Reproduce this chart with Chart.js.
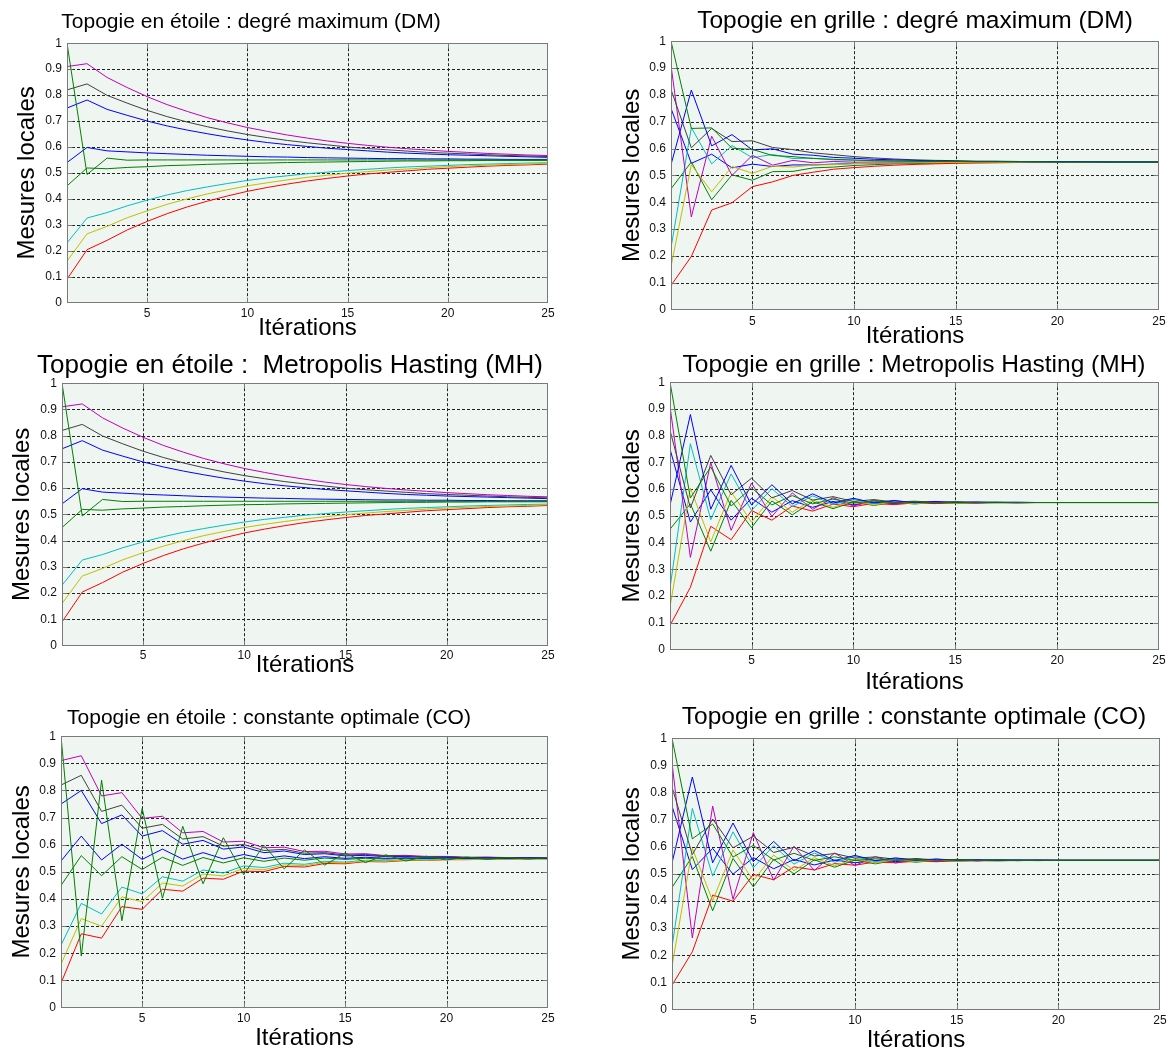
<!DOCTYPE html>
<html>
<head>
<meta charset="utf-8">
<script src="https://cdn.jsdelivr.net/npm/chart.js@4.4.0/dist/chart.umd.min.js"></script>
<style>
html,body{margin:0;padding:0;background:#fff;width:1169px;height:1052px;overflow:hidden;position:relative;font-family:"Liberation Sans",Arial,sans-serif;}
canvas{position:absolute;}
.ttl{position:absolute;color:#000;white-space:pre;transform:translateX(-50%);}
</style>
</head>
<body>
<script>
// ---------- DATA ----------
const iterations = [1,2,3,4,5,6,7,8,9,10,11,12,13,14,15,16,17,18,19,20,21,22,23,24,25];
const xTickValues = [5,10,15,20,25];
const yTickValues = [0,0.1,0.2,0.3,0.4,0.5,0.6,0.7,0.8,0.9,1];
const yTickLabels = ['0','0.1','0.2','0.3','0.4','0.5','0.6','0.7','0.8','0.9','1'];
const nodeNames = ['Nœud 1','Nœud 2','Nœud 3','Nœud 4','Nœud 5','Nœud 6','Nœud 7','Nœud 8','Nœud 9'];

// Topologie en étoile : degré maximum (DM)
const etoileDM_n1 = [0.75,0.781,0.745,0.722,0.700,0.681,0.665,0.651,0.638,0.627,0.617,0.609,0.602,0.595,0.590,0.585,0.580,0.576,0.573,0.570,0.568,0.566,0.564,0.562,0.560];
const etoileDM_n2 = [0.45,0.519,0.516,0.521,0.524,0.528,0.530,0.533,0.535,0.537,0.538,0.540,0.541,0.542,0.543,0.544,0.545,0.546,0.546,0.547,0.547,0.548,0.548,0.548,0.548];
const etoileDM_n3 = [0.09,0.204,0.240,0.280,0.313,0.343,0.369,0.391,0.411,0.429,0.444,0.457,0.469,0.479,0.488,0.496,0.502,0.508,0.514,0.518,0.522,0.526,0.529,0.531,0.534];
const etoileDM_n4 = [0.23,0.326,0.347,0.373,0.395,0.415,0.432,0.446,0.459,0.471,0.481,0.489,0.497,0.503,0.509,0.514,0.519,0.523,0.526,0.529,0.532,0.534,0.536,0.538,0.539];
const etoileDM_n5 = [0.91,0.921,0.868,0.829,0.794,0.763,0.737,0.713,0.693,0.675,0.660,0.646,0.634,0.623,0.614,0.606,0.599,0.593,0.588,0.583,0.579,0.575,0.572,0.569,0.567];
const etoileDM_n6 = [0.16,0.265,0.294,0.327,0.354,0.379,0.400,0.419,0.435,0.450,0.462,0.473,0.483,0.491,0.499,0.505,0.511,0.515,0.520,0.524,0.527,0.530,0.532,0.534,0.537];
const etoileDM_n7 = [0.82,0.843,0.799,0.769,0.741,0.717,0.696,0.678,0.662,0.648,0.636,0.625,0.616,0.608,0.600,0.594,0.589,0.584,0.579,0.576,0.573,0.570,0.567,0.565,0.563];
const etoileDM_n8 = [0.54,0.598,0.585,0.581,0.577,0.574,0.571,0.568,0.566,0.564,0.562,0.561,0.559,0.558,0.557,0.556,0.555,0.555,0.554,0.554,0.553,0.553,0.552,0.552,0.552];
const etoileDM_n9 = [1.00,0.494,0.557,0.549,0.550,0.550,0.550,0.550,0.550,0.550,0.550,0.550,0.550,0.550,0.550,0.550,0.550,0.550,0.550,0.550,0.550,0.550,0.550,0.550,0.550];

// Topologie en étoile : Metropolis Hasting (MH)
const etoileMH_n1 = [0.75,0.781,0.745,0.722,0.700,0.681,0.665,0.651,0.638,0.627,0.617,0.609,0.602,0.595,0.590,0.585,0.580,0.576,0.573,0.570,0.568,0.566,0.564,0.562,0.560];
const etoileMH_n2 = [0.45,0.519,0.516,0.521,0.524,0.528,0.530,0.533,0.535,0.537,0.538,0.540,0.541,0.542,0.543,0.544,0.545,0.546,0.546,0.547,0.547,0.548,0.548,0.548,0.548];
const etoileMH_n3 = [0.09,0.204,0.240,0.280,0.313,0.343,0.369,0.391,0.411,0.429,0.444,0.457,0.469,0.479,0.488,0.496,0.502,0.508,0.514,0.518,0.522,0.526,0.529,0.531,0.534];
const etoileMH_n4 = [0.23,0.326,0.347,0.373,0.395,0.415,0.432,0.446,0.459,0.471,0.481,0.489,0.497,0.503,0.509,0.514,0.519,0.523,0.526,0.529,0.532,0.534,0.536,0.538,0.539];
const etoileMH_n5 = [0.91,0.921,0.868,0.829,0.794,0.763,0.737,0.713,0.693,0.675,0.660,0.646,0.634,0.623,0.614,0.606,0.599,0.593,0.588,0.583,0.579,0.575,0.572,0.569,0.567];
const etoileMH_n6 = [0.16,0.265,0.294,0.327,0.354,0.379,0.400,0.419,0.435,0.450,0.462,0.473,0.483,0.491,0.499,0.505,0.511,0.515,0.520,0.524,0.527,0.530,0.532,0.534,0.537];
const etoileMH_n7 = [0.82,0.843,0.799,0.769,0.741,0.717,0.696,0.678,0.662,0.648,0.636,0.625,0.616,0.608,0.600,0.594,0.589,0.584,0.579,0.576,0.573,0.570,0.567,0.565,0.563];
const etoileMH_n8 = [0.54,0.598,0.585,0.581,0.577,0.574,0.571,0.568,0.566,0.564,0.562,0.561,0.559,0.558,0.557,0.556,0.555,0.555,0.554,0.554,0.553,0.553,0.552,0.552,0.552];
const etoileMH_n9 = [1.00,0.494,0.557,0.549,0.550,0.550,0.550,0.550,0.550,0.550,0.550,0.550,0.550,0.550,0.550,0.550,0.550,0.550,0.550,0.550,0.550,0.550,0.550,0.550,0.550];

// Topologie en étoile : constante optimale (CO)
const etoileCO_n1 = [0.75,0.800,0.678,0.710,0.632,0.652,0.602,0.616,0.584,0.592,0.571,0.577,0.564,0.567,0.559,0.561,0.556,0.557,0.554,0.555,0.552,0.553,0.551,0.552,0.551];
const etoileCO_n2 = [0.45,0.560,0.486,0.556,0.509,0.554,0.524,0.553,0.533,0.552,0.539,0.551,0.543,0.551,0.546,0.550,0.547,0.550,0.548,0.550,0.549,0.550,0.549,0.550,0.550];
const etoileCO_n3 = [0.09,0.272,0.256,0.372,0.362,0.436,0.429,0.477,0.473,0.503,0.501,0.520,0.518,0.531,0.530,0.538,0.537,0.542,0.542,0.545,0.545,0.547,0.547,0.548,0.548];
const etoileCO_n4 = [0.23,0.384,0.345,0.444,0.419,0.482,0.466,0.507,0.496,0.522,0.516,0.532,0.528,0.539,0.536,0.543,0.541,0.545,0.544,0.547,0.546,0.548,0.548,0.549,0.548];
const etoileCO_n5 = [0.91,0.928,0.780,0.792,0.697,0.705,0.644,0.649,0.610,0.613,0.589,0.591,0.575,0.576,0.566,0.567,0.560,0.561,0.557,0.557,0.554,0.554,0.553,0.553,0.552];
const etoileCO_n6 = [0.16,0.328,0.300,0.408,0.390,0.459,0.448,0.492,0.485,0.513,0.508,0.526,0.523,0.535,0.533,0.540,0.539,0.544,0.543,0.546,0.546,0.548,0.547,0.549,0.548];
const etoileCO_n7 = [0.82,0.856,0.723,0.746,0.661,0.675,0.621,0.630,0.595,0.601,0.579,0.583,0.569,0.571,0.562,0.564,0.558,0.559,0.555,0.556,0.553,0.554,0.552,0.553,0.551];
const etoileCO_n8 = [0.54,0.632,0.544,0.602,0.546,0.584,0.547,0.571,0.548,0.564,0.549,0.559,0.549,0.556,0.550,0.554,0.550,0.552,0.550,0.552,0.550,0.551,0.550,0.551,0.550];
const etoileCO_n9 = [1.00,0.190,0.838,0.320,0.734,0.403,0.668,0.456,0.626,0.490,0.598,0.511,0.581,0.525,0.570,0.534,0.563,0.540,0.558,0.544,0.555,0.546,0.553,0.547,0.552];

// Topologie en grille : degré maximum (DM)
const grilleDM_n1 = [0.75,0.545,0.579,0.528,0.542,0.533,0.539,0.539,0.542,0.544,0.545,0.546,0.547,0.548,0.548,0.549,0.549,0.549,0.550,0.550,0.550,0.550,0.550,0.550,0.550];
const grilleDM_n2 = [0.45,0.550,0.409,0.502,0.482,0.514,0.515,0.528,0.531,0.537,0.540,0.543,0.544,0.546,0.547,0.548,0.548,0.549,0.549,0.549,0.550,0.550,0.550,0.550,0.550];
const grilleDM_n3 = [0.09,0.198,0.371,0.398,0.458,0.476,0.500,0.512,0.523,0.529,0.534,0.538,0.541,0.543,0.545,0.546,0.547,0.548,0.548,0.549,0.549,0.549,0.550,0.550,0.550];
const grilleDM_n4 = [0.23,0.678,0.543,0.611,0.566,0.578,0.563,0.564,0.558,0.557,0.555,0.554,0.553,0.552,0.552,0.551,0.551,0.551,0.550,0.550,0.550,0.550,0.550,0.550,0.550];
const grilleDM_n5 = [0.91,0.345,0.646,0.500,0.575,0.538,0.556,0.547,0.552,0.549,0.550,0.550,0.550,0.550,0.550,0.550,0.550,0.550,0.550,0.550,0.550,0.550,0.550,0.550,0.550];
const grilleDM_n6 = [0.16,0.540,0.439,0.533,0.508,0.534,0.531,0.539,0.540,0.544,0.545,0.546,0.547,0.548,0.548,0.549,0.549,0.549,0.550,0.550,0.550,0.550,0.550,0.550,0.550];
const grilleDM_n7 = [0.82,0.603,0.675,0.626,0.629,0.604,0.596,0.584,0.577,0.570,0.565,0.561,0.558,0.556,0.555,0.553,0.553,0.552,0.551,0.551,0.551,0.551,0.550,0.550,0.550];
const grilleDM_n8 = [0.54,0.818,0.610,0.652,0.595,0.599,0.579,0.575,0.567,0.564,0.560,0.558,0.556,0.554,0.553,0.552,0.552,0.551,0.551,0.551,0.551,0.550,0.550,0.550,0.550];
const grilleDM_n9 = [1.00,0.675,0.677,0.601,0.597,0.574,0.570,0.563,0.560,0.557,0.555,0.554,0.553,0.552,0.552,0.551,0.551,0.551,0.551,0.550,0.550,0.550,0.550,0.550,0.550];

// Topologie en grille : Metropolis Hasting (MH)
const grilleMH_n1 = [0.75,0.477,0.597,0.484,0.566,0.514,0.557,0.532,0.554,0.541,0.552,0.546,0.551,0.548,0.550,0.549,0.550,0.5495,0.550,0.550,0.550,0.550,0.550,0.550,0.550];
const grilleMH_n2 = [0.45,0.545,0.368,0.558,0.456,0.556,0.504,0.553,0.527,0.552,0.539,0.551,0.5446,0.5505,0.547,0.550,0.549,0.550,0.550,0.550,0.550,0.550,0.550,0.550,0.550];
const grilleMH_n3 = [0.09,0.233,0.461,0.411,0.520,0.484,0.537,0.518,0.544,0.5345,0.547,0.542,0.5486,0.546,0.549,0.548,0.550,0.549,0.550,0.550,0.550,0.550,0.550,0.550,0.550];
const grilleMH_n4 = [0.23,0.770,0.486,0.657,0.520,0.602,0.535,0.575,0.543,0.5625,0.546,0.556,0.548,0.553,0.549,0.5515,0.550,0.551,0.550,0.550,0.550,0.550,0.550,0.550,0.550];
const grilleMH_n5 = [0.91,0.345,0.700,0.446,0.623,0.498,0.586,0.5245,0.568,0.537,0.559,0.544,0.554,0.547,0.552,0.5485,0.551,0.549,0.550,0.550,0.550,0.550,0.550,0.550,0.550];
const grilleMH_n6 = [0.16,0.604,0.403,0.590,0.4765,0.571,0.514,0.560,0.532,0.555,0.541,0.553,0.546,0.551,0.548,0.5506,0.549,0.550,0.550,0.550,0.550,0.550,0.550,0.550,0.550];
const grilleMH_n7 = [0.82,0.530,0.726,0.579,0.641,0.5675,0.595,0.559,0.572,0.554,0.561,0.552,0.555,0.551,0.553,0.5504,0.551,0.550,0.550,0.550,0.550,0.550,0.550,0.550,0.550];
const grilleMH_n8 = [0.54,0.879,0.525,0.689,0.541,0.6165,0.545,0.5825,0.548,0.566,0.549,0.558,0.549,0.554,0.550,0.552,0.550,0.551,0.550,0.550,0.550,0.550,0.550,0.550,0.550];
const grilleMH_n9 = [1.00,0.567,0.683,0.537,0.605,0.541,0.576,0.545,0.563,0.5475,0.556,0.549,0.553,0.549,0.5515,0.550,0.551,0.550,0.550,0.550,0.550,0.550,0.550,0.550,0.550];

// Topologie en grille : constante optimale (CO)
const grilleCO_n1 = [0.75,0.516,0.594,0.499,0.560,0.519,0.553,0.533,0.551,0.541,0.550,0.5455,0.550,0.548,0.550,0.549,0.550,0.549,0.550,0.550,0.550,0.550,0.550,0.550,0.550];
const grilleCO_n2 = [0.45,0.564,0.364,0.557,0.4525,0.5535,0.500,0.552,0.5246,0.551,0.537,0.5505,0.543,0.550,0.547,0.550,0.548,0.550,0.549,0.550,0.550,0.550,0.550,0.550,0.550];
const grilleCO_n3 = [0.09,0.213,0.422,0.3995,0.498,0.4785,0.526,0.5145,0.538,0.532,0.544,0.541,0.547,0.545,0.548,0.548,0.549,0.549,0.550,0.550,0.550,0.550,0.550,0.550,0.550];
const grilleCO_n4 = [0.23,0.741,0.492,0.655,0.5226,0.604,0.536,0.577,0.543,0.564,0.546,0.557,0.548,0.554,0.549,0.552,0.5495,0.551,0.550,0.550,0.550,0.550,0.550,0.550,0.550];
const grilleCO_n5 = [0.91,0.264,0.750,0.4065,0.652,0.477,0.602,0.5127,0.577,0.531,0.5636,0.540,0.557,0.545,0.554,0.548,0.552,0.549,0.551,0.550,0.550,0.550,0.550,0.550,0.550];
const grilleCO_n6 = [0.16,0.594,0.401,0.588,0.475,0.5695,0.512,0.560,0.5305,0.555,0.540,0.553,0.545,0.551,0.547,0.551,0.549,0.550,0.549,0.550,0.550,0.550,0.550,0.550,0.550];
const grilleCO_n7 = [0.82,0.571,0.702,0.596,0.639,0.579,0.598,0.566,0.575,0.558,0.5626,0.554,0.556,0.552,0.553,0.551,0.552,0.551,0.551,0.550,0.550,0.550,0.550,0.550,0.550];
const grilleCO_n8 = [0.54,0.857,0.541,0.6875,0.545,0.6197,0.548,0.5856,0.549,0.568,0.549,0.559,0.550,0.555,0.550,0.552,0.550,0.551,0.550,0.550,0.550,0.550,0.550,0.550,0.550];
const grilleCO_n9 = [1.00,0.629,0.684,0.562,0.605,0.551,0.576,0.5495,0.563,0.5496,0.556,0.550,0.553,0.550,0.552,0.550,0.551,0.550,0.550,0.550,0.550,0.550,0.550,0.550,0.550];

// ---------- STYLE / LAYOUT ----------
const FONT = '"Liberation Sans", Arial, sans-serif';
const nodeColors = ['#0000ff','#008000','#ff0000','#00bfbf','#bf00bf','#bfbf00','#404040','#0000ff','#008000'];
const PADTOP = 10;
const AXIS_TITLE_SIZE = 24;
const HALF_LH = AXIS_TITLE_SIZE * 1.2 / 2;

const panels = [
  {title:'Topogie en étoile : degré maximum (DM)', series:[etoileDM_n1,etoileDM_n2,etoileDM_n3,etoileDM_n4,etoileDM_n5,etoileDM_n6,etoileDM_n7,etoileDM_n8,etoileDM_n9],
   colLeft:0, colW:562, L:67, T:41, R:548, B:302, xTitleY:328, yTitleX:27, tickPad:4, titleX:251, titleMid:20, titleSize:21},
  {title:'Topogie en grille : degré maximum (DM)', series:[grilleDM_n1,grilleDM_n2,grilleDM_n3,grilleDM_n4,grilleDM_n5,grilleDM_n6,grilleDM_n7,grilleDM_n8,grilleDM_n9],
   colLeft:590, colW:581, L:671, T:39, R:1159, B:309, xTitleY:336, yTitleX:632, tickPad:5, titleX:915, titleMid:20, titleSize:24.5},
  {title:'Topogie en étoile :  Metropolis Hasting (MH)', series:[etoileMH_n1,etoileMH_n2,etoileMH_n3,etoileMH_n4,etoileMH_n5,etoileMH_n6,etoileMH_n7,etoileMH_n8,etoileMH_n9],
   colLeft:0, colW:562, L:62, T:381, R:548, B:645, xTitleY:665, yTitleX:22, tickPad:3, titleX:290, titleMid:364, titleSize:26},
  {title:'Topogie en grille : Metropolis Hasting (MH)', series:[grilleMH_n1,grilleMH_n2,grilleMH_n3,grilleMH_n4,grilleMH_n5,grilleMH_n6,grilleMH_n7,grilleMH_n8,grilleMH_n9],
   colLeft:590, colW:581, L:670, T:380, R:1159, B:649, xTitleY:682, yTitleX:632, tickPad:4, titleX:914, titleMid:364, titleSize:24.5},
  {title:'Topogie en étoile : constante optimale (CO)', series:[etoileCO_n1,etoileCO_n2,etoileCO_n3,etoileCO_n4,etoileCO_n5,etoileCO_n6,etoileCO_n7,etoileCO_n8,etoileCO_n9],
   colLeft:0, colW:562, L:61, T:734, R:548, B:1007, xTitleY:1038, yTitleX:22, tickPad:4, titleX:269, titleMid:716, titleSize:21},
  {title:'Topogie en grille : constante optimale (CO)', series:[grilleCO_n1,grilleCO_n2,grilleCO_n3,grilleCO_n4,grilleCO_n5,grilleCO_n6,grilleCO_n7,grilleCO_n8,grilleCO_n9],
   colLeft:590, colW:581, L:672, T:736, R:1160, B:1009, xTitleY:1040, yTitleX:632, tickPad:4, titleX:914, titleMid:716, titleSize:24.5}
];

const matlabFrame = {
  id: 'matlabFrame',
  beforeDatasetsDraw(chart) {
    const {ctx, chartArea: a, scales: {x, y}} = chart;
    ctx.save();
    ctx.fillStyle = '#eff5f0';
    ctx.fillRect(a.left, a.top, a.right - a.left, a.bottom - a.top);
    ctx.strokeStyle = '#222222';
    ctx.lineWidth = 1;
    ctx.setLineDash([3, 2]);
    ctx.beginPath();
    yTickValues.forEach(v => {
      if (v > y.min && v < y.max) {
        const py = Math.round(y.getPixelForValue(v)) + 0.5;
        ctx.moveTo(a.left, py); ctx.lineTo(a.right, py);
      }
    });
    xTickValues.forEach(v => {
      if (v > x.min && v < x.max) {
        const px = Math.round(x.getPixelForValue(v)) + 0.5;
        ctx.moveTo(px, a.top); ctx.lineTo(px, a.bottom);
      }
    });
    ctx.stroke();
    ctx.restore();
  },
  afterDatasetsDraw(chart) {
    const {ctx, chartArea: a, scales: {x, y}} = chart;
    const l = Math.round(a.left) + 0.5, t = Math.round(a.top) + 0.5;
    const r = Math.round(a.right) - 0.5, b = Math.round(a.bottom) - 0.5;
    const clamp = (v, lo, hi) => Math.min(Math.max(v, lo), hi);
    ctx.save();
    ctx.strokeStyle = '#7a7a7a';
    ctx.lineWidth = 1;
    ctx.setLineDash([]);
    ctx.strokeRect(l, t, r - l, b - t);
    ctx.beginPath();
    const tl = 5;
    yTickValues.forEach(v => {
      const py = clamp(Math.round(y.getPixelForValue(v)) + 0.5, t, b);
      ctx.moveTo(l, py); ctx.lineTo(l + tl, py);
      ctx.moveTo(r, py); ctx.lineTo(r - tl, py);
    });
    xTickValues.forEach(v => {
      const px = clamp(Math.round(x.getPixelForValue(v)) + 0.5, l, r);
      ctx.moveTo(px, b); ctx.lineTo(px, b - tl);
      ctx.moveTo(px, t); ctx.lineTo(px, t + tl);
    });
    ctx.stroke();
    ctx.restore();
  }
};

panels.forEach(p => {
  const W = p.colW;
  const xAxisH = p.xTitleY - p.B + HALF_LH;
  const H = Math.ceil((p.B - p.T) + PADTOP + xAxisH);
  const cv = document.createElement('canvas');
  cv.width = W; cv.height = H;
  cv.style.left = p.colLeft + 'px';
  cv.style.top = (p.T - PADTOP) + 'px';
  cv.style.width = W + 'px';
  cv.style.height = H + 'px';
  document.body.appendChild(cv);

  const t = document.createElement('div');
  t.className = 'ttl';
  t.textContent = p.title;
  t.style.fontSize = p.titleSize + 'px';
  t.style.lineHeight = p.titleSize + 'px';
  t.style.left = p.titleX + 'px';
  t.style.top = (p.titleMid + 0.36 * p.titleSize - 0.848 * p.titleSize) + 'px';
  document.body.appendChild(t);

  const datasets = p.series.map((vals, i) => ({
    label: nodeNames[i],
    data: vals.map((v, k) => ({x: iterations[k], y: v})),
    borderColor: nodeColors[i],
    backgroundColor: nodeColors[i],
    borderWidth: 1,
    pointRadius: 0,
    tension: 0,
    fill: false,
    order: p.series.length - 1 - i
  }));

  new Chart(cv.getContext('2d'), {
    type: 'line',
    data: {datasets},
    plugins: [matlabFrame],
    options: {
      responsive: false,
      animation: false,
      devicePixelRatio: 1,
      layout: {padding: {left: 0, top: PADTOP, right: W - (p.R - p.colLeft), bottom: 0}},
      plugins: {legend: {display: false}, tooltip: {enabled: false}, title: {display: false}},
      scales: {
        x: {
          type: 'linear', min: 1, max: 25,
          grid: {display: false, drawTicks: false},
          border: {display: false},
          afterBuildTicks: s => { s.ticks = xTickValues.map(v => ({value: v})); },
          afterFit: s => { s.height = xAxisH; },
          ticks: {font: {family: FONT, size: 12}, color: '#111', padding: p.tickPad, maxRotation: 0, autoSkip: false,
                  callback: v => String(v)},
          title: {display: true, text: 'Itérations', font: {family: FONT, size: AXIS_TITLE_SIZE}, color: '#000', padding: {top: 0, bottom: 0}}
        },
        y: {
          type: 'linear', min: 0, max: 1,
          grid: {display: false, drawTicks: false},
          border: {display: false},
          afterBuildTicks: s => { s.ticks = yTickValues.map(v => ({value: v})); },
          afterFit: s => { s.width = p.L - p.colLeft; },
          ticks: {font: {family: FONT, size: 12}, color: '#111', padding: 5, autoSkip: false,
                  callback: v => yTickLabels[yTickValues.indexOf(v)]},
          title: {display: true, text: 'Mesures locales', font: {family: FONT, size: AXIS_TITLE_SIZE}, color: '#000',
                  padding: {top: p.yTitleX - p.colLeft - HALF_LH, bottom: 0}}
        }
      }
    }
  });
});
</script>
</body>
</html>
